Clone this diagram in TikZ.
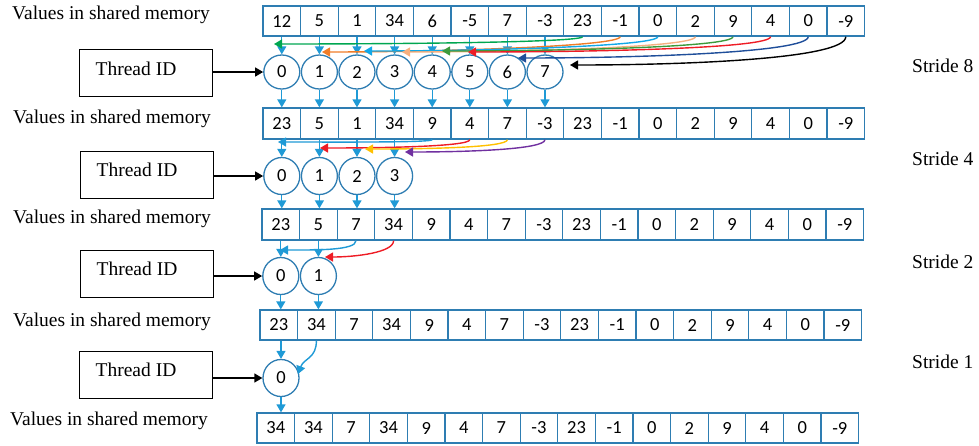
\documentclass[tikz,border=0pt]{standalone}
\usepackage{fontspec}
\setmainfont{Liberation Serif}
\newfontfamily\calib{Carlito}
\usetikzlibrary{arrows.meta,shapes.geometric,calc}
\definecolor{cellblue}{HTML}{2E7DB2}
\definecolor{arrblue}{HTML}{1F9AD6}
\definecolor{cgreen}{HTML}{00A651}
\definecolor{corange}{HTML}{F07D28}
\definecolor{ccyan}{HTML}{12A8E8}
\definecolor{cpeach}{HTML}{F5B080}
\definecolor{cdkgreen}{HTML}{3C9A3C}
\definecolor{cred}{HTML}{EE1C25}
\definecolor{cdkblue}{HTML}{1F4E9A}
\definecolor{cgold}{HTML}{FFC000}
\definecolor{cpurple}{HTML}{7030A0}
\tikzset{
  cell/.style={draw=cellblue, line width=1.3pt, minimum width=37.6pt, minimum height=30pt, inner sep=0pt, font=\calib\fontsize{18.5}{20}\selectfont},
  tid/.style={ellipse, draw=cellblue, line width=1.3pt, minimum width=36pt, minimum height=37pt, inner sep=0pt, font=\calib\fontsize{18.5}{20}\selectfont},
  down/.style={arrblue, line width=1.3pt, -{Triangle[length=8pt,width=9pt]}},
  flow/.style={line width=1.4pt, -{Triangle[length=8pt,width=9pt]}},
  tbox/.style={draw, line width=1pt, minimum width=133pt, minimum height=47pt, inner sep=0pt},
  lbl/.style={font=\fontsize{19.5}{22}\selectfont, anchor=west, inner sep=0pt},
}
\begin{document}
\begin{tikzpicture}[x=1pt,y=-1pt]
\useasboundingbox (0,0) rectangle (979,445);
% memory rows
\foreach \v [count=\i from 0] in {12,5,1,34,6,-5,7,-3,23,-1,0,2,9,4,0,-9}
  \node[cell] (a\i) at ({263+18.8+37.6*\i},21) {\v};
\foreach \v [count=\i from 0] in {23,5,1,34,9,4,7,-3,23,-1,0,2,9,4,0,-9}
  \node[cell, minimum height=31pt] (b\i) at ({263+18.8+37.6*\i},123.5) {\v};
\foreach \v [count=\i from 0] in {23,5,7,34,9,4,7,-3,23,-1,0,2,9,4,0,-9}
  \node[cell, minimum height=31pt] (c\i) at ({262+18.8+37.6*\i},224.5) {\v};
\foreach \v [count=\i from 0] in {23,34,7,34,9,4,7,-3,23,-1,0,2,9,4,0,-9}
  \node[cell] (d\i) at ({260+18.8+37.6*\i},325) {\v};
\foreach \v [count=\i from 0] in {34,34,7,34,9,4,7,-3,23,-1,0,2,9,4,0,-9}
  \node[cell] (e\i) at ({257+18.8+37.6*\i},428) {\v};
% labels
\node[lbl] (m1) at (12,15) {Values in shared memory};
\node[lbl] (m2) at (13,119) {Values in shared memory};
\node[lbl] (m3) at (13,219) {Values in shared memory};
\node[lbl] (m4) at (13,321.5) {Values in shared memory};
\node[lbl] (m5) at (10,421) {Values in shared memory};
\node[lbl] (s8) at (912,66) {Stride 8};
\node[lbl] (s4) at (912,159) {Stride 4};
\node[lbl] (s2) at (912,262) {Stride 2};
\node[lbl] (s1) at (912,362) {Stride 1};
% thread circles
\foreach \i in {0,...,7}
  \node[tid, minimum height=34pt] (p\i) at (a\i |- 0,72) {\i};
\foreach \i in {0,...,3}
  \node[tid] (q\i) at (b\i |- 0,176) {\i};
\foreach \i in {0,...,1}
  \node[tid] (r\i) at (c\i |- 0,276) {\i};
\node[tid] (w0c) at (281,378) {0};
% thread ID boxes
\node[tbox] (tb1) at (145.5,72.5) {};
\node[lbl, anchor=center] (tt1) at (136,69) {Thread ID};
\node[tbox] (tb2) at (147,174.5) {};
\node[lbl, anchor=center] (tt2) at (137,169.5) {Thread ID};
\node[tbox] (tb3) at (147,274) {};
\node[lbl, anchor=center] (tt3) at (137,268.5) {Thread ID};
\node[tbox] (tb4) at (145.5,375) {};
\node[lbl, anchor=center] (tt4) at (136,370) {Thread ID};
\draw[flow] (tb1.east |- p0.west) -- (p0.west);
\draw[flow] (tb2.east |- q0.west) -- (q0.west);
\draw[flow] (tb3.east |- r0.west) -- (r0.west);
\draw[flow] (tb4.east |- w0c.west) -- (w0c.west);
% vertical arrows
\foreach \i in {0,...,7} {
  \draw[down] (a\i.south) -- (p\i.north);
  \draw[down] (p\i.south) -- (p\i.south |- b\i.north);
}
\foreach \i in {0,...,3} {
  \draw[down] (b\i.south) -- (q\i.north);
  \draw[down] (q\i.south) -- (q\i.south |- c\i.north);
}
\foreach \i in {0,...,1} {
  \draw[down] (c\i.south) -- (r\i.north);
  \draw[down] (r\i.south) -- (r\i.south |- d\i.north);
}
\draw[down] (d0.south -| w0c.north) -- (w0c.north);
\draw[down] (w0c.south) -- (w0c.south |- e0.north);
% stride 8 tips
\coordinate (t0) at (274,44);
\coordinate (t1) at (322,52);
\coordinate (t2) at (364,51);
\coordinate (t3) at (402,52);
\coordinate (t4) at (442,51);
\coordinate (t5) at (468,52);
\coordinate (t6) at (518,58);
\coordinate (t7) at (570,65);
\draw[flow, cgreen]   (a8.south)  .. controls +(0,6)  and +(110,0) .. (t0);
\draw[flow, corange]  (a9.south)  .. controls +(0,10) and +(110,0) .. (t1);
\draw[flow, ccyan]    (a10.south) .. controls +(0,10) and +(110,0) .. (t2);
\draw[flow, cpeach]   (a11.south) .. controls +(0,11) and +(110,0) .. (t3);
\draw[flow, cdkgreen] (a12.south) .. controls +(0,11) and +(110,0) .. (t4);
\draw[flow, cred]     (a13.south) .. controls +(0,12) and +(120,0) .. (t5);
\draw[flow, cdkblue]  (a14.south) .. controls +(0,16) and +(120,0) .. (t6);
\draw[flow, black]    (a15.south) .. controls +(0,22) and +(120,0) .. (t7);
% stride 4
\coordinate (u0) at (278,142);
\coordinate (u1) at (320,148);
\coordinate (u2) at (365,149);
\coordinate (u3) at (405,152);
\draw[flow, arrblue] (b4.south) .. controls +(0,3)  and +(60,0) .. (u0);
\draw[flow, cred]    (b5.south) .. controls +(0,7)  and +(60,0) .. (u1);
\draw[flow, cgold]   (b6.south) .. controls +(0,8)  and +(60,0) .. (u2);
\draw[flow, cpurple] (b7.south) .. controls +(0,10) and +(60,0) .. (u3);
% stride 2
\coordinate (v0) at (280,250);
\coordinate (v1) at (325,257);
\draw[flow, arrblue] (c2.south) .. controls +(0,10) and +(35,0) .. (v0);
\draw[flow, cred]    (c3.south) .. controls +(0,12) and +(30,0) .. (v1);
% stride 1
\coordinate (w0) at (298,374);
\draw[flow, arrblue] (d1.south) .. controls +(0,18) and +(6,-16) .. (w0);
\end{tikzpicture}
\end{document}
